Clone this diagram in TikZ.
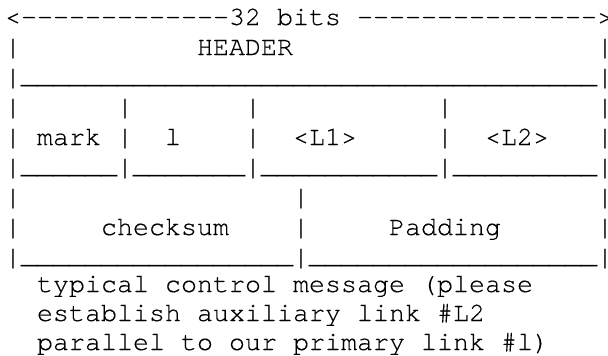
\documentclass[tikz,border=0pt]{standalone}
\usepackage{fontspec}
\newfontfamily\cursfont[FakeBold=0.3]{TeX Gyre Cursor}
\begin{document}
\begin{tikzpicture}[x=1pt,y=1pt,
  txt/.style={anchor=base west,inner sep=0pt,outer sep=0pt,font=\cursfont\fontsize{26.67pt}{30pt}\selectfont}]
\useasboundingbox (0,0) rectangle (608,-356);
% \seg{name}{column}{baseline}{text}
\newcommand\seg[4]{\node[txt] (#1) at ({5+16*#2},{-#3}) {#4};}
\newcommand\unds[1]{\foreach \i in {1,...,#1}{\_}}
% row 1
\seg{arrow}{0}{25}{<-------------32 bits --------------->}
% row 2
\seg{l2a}{0}{55}{|}
\seg{header}{12}{55}{HEADER}
\seg{l2b}{37}{55}{|}
% row 3
\seg{l3a}{0}{85}{|}
\seg{u3}{1}{83}{\unds{36}}
\seg{l3b}{37}{85}{|}
% row 4
\seg{l4a}{0}{115}{|}
\seg{l4b}{7}{115}{|}
\seg{l4c}{15}{115}{|}
\seg{l4d}{27}{115}{|}
\seg{l4e}{37}{115}{|}
% row 5
\seg{l5a}{0}{145}{|}
\seg{mark}{2}{145}{mark}
\seg{l5b}{7}{145}{|}
\seg{ell}{10}{145}{l}
\seg{l5c}{15}{145}{|}
\seg{Lone}{18}{145}{<L1>}
\seg{l5d}{27}{145}{|}
\seg{Ltwo}{30}{145}{<L2>}
\seg{l5e}{37}{145}{|}
% row 6
\seg{l6a}{0}{175}{|}
\seg{u6a}{1}{173}{\unds{6}}
\seg{l6b}{7}{175}{|}
\seg{u6b}{8}{173}{\unds{7}}
\seg{l6c}{15}{175}{|}
\seg{u6c}{16}{173}{\unds{11}}
\seg{l6d}{27}{175}{|}
\seg{u6d}{28}{173}{\unds{9}}
\seg{l6e}{37}{175}{|}
% row 7
\seg{l7a}{0}{205}{|}
\seg{l7b}{18}{205}{|}
\seg{l7c}{37}{205}{|}
% row 8
\seg{l8a}{0}{235}{|}
\seg{checksum}{6}{235}{checksum}
\seg{l8b}{18}{235}{|}
\seg{padding}{24}{235}{Padding}
\seg{l8c}{37}{235}{|}
% row 9
\seg{l9a}{0}{265}{|}
\seg{u9a}{1}{263}{\unds{17}}
\seg{l9b}{18}{265}{|}
\seg{u9b}{19}{263}{\unds{18}}
\seg{l9c}{37}{265}{|}
% caption
\seg{cap1}{2}{292}{typical control message (please}
\seg{cap2}{2}{321}{establish auxiliary link \#L2}
\seg{cap3}{2}{350}{parallel to our primary link \#l)}
\end{tikzpicture}
\end{document}
